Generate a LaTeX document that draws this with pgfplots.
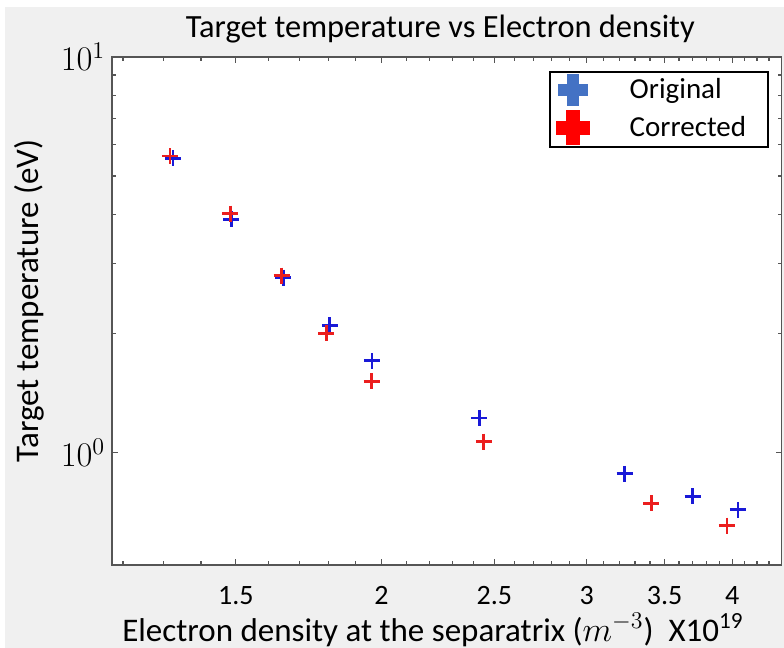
\documentclass[border=0pt]{standalone}
\usepackage{pgfplots}
\pgfplotsset{compat=1.18}
\usepackage{fontspec}
\setmainfont{Carlito}
\definecolor{bggray}{RGB}{240,240,240}
\definecolor{legblue}{RGB}{68,114,196}
\definecolor{ptblue}{RGB}{25,25,215}
\definecolor{ptred}{RGB}{235,30,30}
\definecolor{axgray}{RGB}{85,85,85}

\begin{document}
\begin{tikzpicture}
\useasboundingbox (0,0) rectangle (392pt,324pt);
\fill[white] (0,0) rectangle (392pt,324pt);
\fill[bggray] (2.5pt,0) rectangle (392pt,320.5pt);
\begin{axis}[
    at={(56.15pt,41.5pt)}, anchor=south west,
    scale only axis, width=334.7pt, height=254pt,
    xmode=log, ymode=log,
    xmin=1.175, xmax=4.41, ymin=0.52, ymax=10,
    axis background/.style={fill=white},
    xtick={1.5,2,2.5,3,3.5,4},
    xticklabels={1.5,2,2.5,3,3.5,4},
    minor xtick={1.2,1.3,1.4,1.6,1.7,1.8,1.9,2.1,2.2,2.3,2.4,2.6,2.7,2.8,2.9,3.1,3.2,3.3,3.4,3.6,3.7,3.8,3.9,4.1,4.2,4.3},
    ytick={1,10},
    tick align=inside,
    major tick length=3pt, minor tick length=2pt,
    axis line style={axgray, line width=0.8pt},
    tick style={axgray, line width=0.6pt},
    x tick label style={font=\fontsize{14}{17}\selectfont, yshift=-7pt},
    y tick label style={font=\fontsize{16.5}{19}\selectfont},
    title={Target temperature vs Electron density},
    title style={font=\fontsize{16.2}{19}\selectfont, anchor=base, at={(axis description cs:0.49,1)}, yshift=3.5pt},
    xlabel={Electron density at the separatrix ($m^{-3}$)\ \ X10\textsuperscript{19}},
    xlabel style={font=\fontsize{16.5}{19}\selectfont, at={(axis description cs:0.479,-0.128)}, anchor=center},
    ylabel={Target temperature (eV)},
    ylabel style={font=\fontsize{16.5}{20}\selectfont, at={(axis description cs:-0.124,0.52)}, anchor=center},
    legend style={at={(axis description cs:0.652,0.972)}, anchor=north west,
        draw=black, line width=1pt, fill=white,
        inner xsep=3pt, inner ysep=1pt,
        font=\fontsize{14.5}{17}\selectfont,
        nodes={inner sep=0pt},
        row sep=2pt,
        /tikz/every odd column/.append style={column sep=20pt},
        /tikz/every even column/.append style={text width=66pt}},
    legend cell align=left,
]
\addplot[only marks, mark=+, mark size=4pt, mark options={line width=1.4pt}, color=ptblue,
    legend image code/.code={
        \fill[legblue] (-7pt,-2.5pt) rectangle (7pt,2.5pt);
        \fill[legblue] (-2.5pt,-7.5pt) rectangle (2.5pt,7.5pt);}]
coordinates {
    (1.325,5.54) (1.487,3.89) (1.647,2.77) (1.806,2.10) (1.963,1.707)
    (2.426,1.224) (3.234,0.884) (3.698,0.776) (4.045,0.717)
};
\addplot[only marks, mark=+, mark size=4pt, mark options={line width=1.4pt}, color=ptred,
    legend image code/.code={
        \fill[red] (-8pt,-3pt) rectangle (8pt,3pt);
        \fill[red] (-3pt,-8.25pt) rectangle (3pt,8.25pt);}]
coordinates {
    (1.317,5.62) (1.483,4.02) (1.642,2.80) (1.794,2.005) (1.961,1.514)
    (2.448,1.066) (3.409,0.745) (3.958,0.654)
};
\legend{Original,Corrected}
\end{axis}
\end{tikzpicture}
\end{document}
